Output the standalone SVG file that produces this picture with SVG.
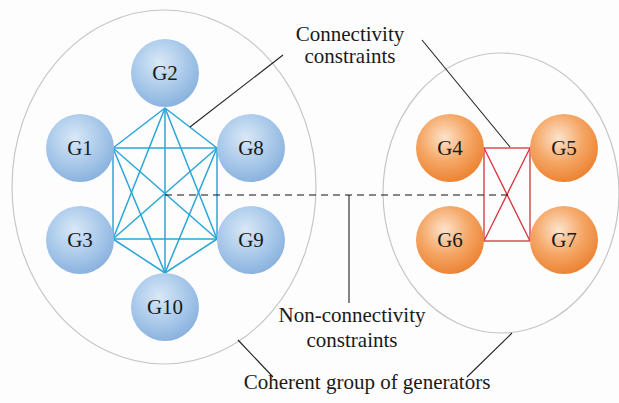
<svg xmlns="http://www.w3.org/2000/svg" width="619" height="403" viewBox="0 0 619 403" font-family="Liberation Serif, Times New Roman, serif">
<defs>
<radialGradient id="gb" cx="0.42" cy="0.35" r="0.65">
<stop offset="0" stop-color="#d9e8f6"/>
<stop offset="0.6" stop-color="#a9c9ea"/>
<stop offset="1" stop-color="#8bb3df"/>
</radialGradient>
<radialGradient id="go" cx="0.42" cy="0.35" r="0.65">
<stop offset="0" stop-color="#fde3cc"/>
<stop offset="0.55" stop-color="#f5a766"/>
<stop offset="1" stop-color="#ec8435"/>
</radialGradient>
<style>
.grp{fill:none;stroke:#c6c6c6;stroke-width:1.2}
.nb{fill:url(#gb)}
.no{fill:url(#go)}
.lbl{font-size:21px;fill:#1a1a1a;text-anchor:middle}
.bl{stroke:#2aa6d6;stroke-width:1.5;fill:none}
.rl{stroke:#d8323c;stroke-width:1.3;fill:none}
.call{stroke:#222;stroke-width:1.1;fill:none}
.dash{stroke:#111;stroke-width:1.2;stroke-dasharray:7,5;fill:none}
</style>
</defs>
<rect width="619" height="403" fill="#fdfdfd"/>
<g id="group-left"><ellipse class="grp" cx="164" cy="187" rx="152" ry="177"/></g>
<g id="group-right"><ellipse class="grp" cx="501" cy="193" rx="118" ry="140"/></g>
<g id="connectors">
<g id="blue-edges">
<line class="bl" x1="165" y1="108" x2="113" y2="148"/>
<line class="bl" x1="165" y1="108" x2="217" y2="148"/>
<line class="bl" x1="165" y1="108" x2="113" y2="239"/>
<line class="bl" x1="165" y1="108" x2="217" y2="239"/>
<line class="bl" x1="165" y1="108" x2="165" y2="273"/>
<line class="bl" x1="113" y1="148" x2="217" y2="148"/>
<line class="bl" x1="113" y1="148" x2="113" y2="239"/>
<line class="bl" x1="113" y1="148" x2="217" y2="239"/>
<line class="bl" x1="113" y1="148" x2="165" y2="273"/>
<line class="bl" x1="217" y1="148" x2="113" y2="239"/>
<line class="bl" x1="217" y1="148" x2="217" y2="239"/>
<line class="bl" x1="217" y1="148" x2="165" y2="273"/>
<line class="bl" x1="113" y1="239" x2="217" y2="239"/>
<line class="bl" x1="113" y1="239" x2="165" y2="273"/>
<line class="bl" x1="217" y1="239" x2="165" y2="273"/>
</g>
<g id="red-edges">
<rect class="rl" x="484" y="148" width="46" height="93"/>
<line class="rl" x1="484" y1="148" x2="530" y2="241"/>
<line class="rl" x1="530" y1="148" x2="484" y2="241"/>
</g>
<line class="dash" x1="165" y1="195" x2="508" y2="195"/>
<line class="call" x1="283" y1="55" x2="190" y2="127"/>
<line class="call" x1="422" y1="40" x2="510" y2="147"/>
<line class="call" x1="349" y1="195" x2="349" y2="303"/>
<line class="call" x1="238" y1="340" x2="273" y2="377"/>
<line class="call" x1="512" y1="333" x2="467" y2="377"/>
</g>
<g id="G2"><circle class="nb" cx="165" cy="73" r="34"/><text class="lbl" x="165" y="80">G2</text></g>
<g id="G1"><circle class="nb" cx="80" cy="148" r="34"/><text class="lbl" x="80" y="155">G1</text></g>
<g id="G8"><circle class="nb" cx="251" cy="148" r="34"/><text class="lbl" x="251" y="155">G8</text></g>
<g id="G3"><circle class="nb" cx="80" cy="240" r="34"/><text class="lbl" x="80" y="247">G3</text></g>
<g id="G9"><circle class="nb" cx="251" cy="240" r="34"/><text class="lbl" x="251" y="247">G9</text></g>
<g id="G10"><circle class="nb" cx="165" cy="307" r="34"/><text class="lbl" x="165" y="314">G10</text></g>
<g id="G4"><circle class="no" cx="450" cy="148" r="34"/><text class="lbl" x="450" y="155">G4</text></g>
<g id="G5"><circle class="no" cx="564" cy="148" r="34"/><text class="lbl" x="564" y="155">G5</text></g>
<g id="G6"><circle class="no" cx="450" cy="240" r="34"/><text class="lbl" x="450" y="247">G6</text></g>
<g id="G7"><circle class="no" cx="564" cy="240" r="34"/><text class="lbl" x="564" y="247">G7</text></g>
<g id="label-connectivity"><text class="lbl" x="350" y="41">Connectivity</text><text class="lbl" x="350" y="63">constraints</text></g>
<g id="label-nonconnectivity"><text class="lbl" x="352" y="322">Non-connectivity</text><text class="lbl" x="352" y="347">constraints</text></g>
<g id="label-coherent"><text class="lbl" x="367" y="389">Coherent group of generators</text></g>
</svg>
